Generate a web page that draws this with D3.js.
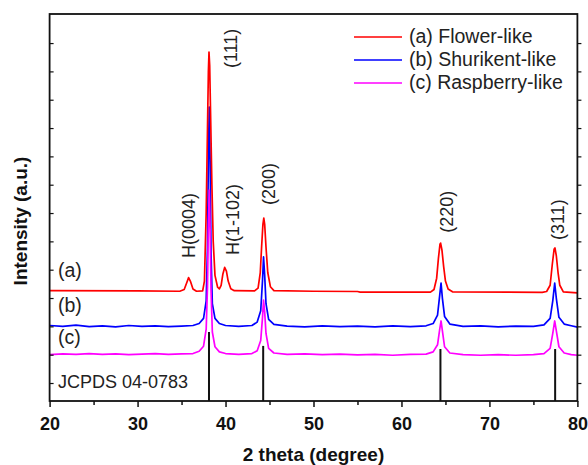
<!DOCTYPE html>
<html>
<head>
<meta charset="utf-8">
<script src="https://cdn.jsdelivr.net/npm/d3@7"></script>
<style>
  body { margin: 0; background: #fff; }
  svg { display: block; font-family: Arial, "Liberation Sans", sans-serif; }
</style>
</head>
<body>
<div class="chart"></div>
<script>
// 2 theta (deg) / intensity (a.u.) points, offset traces
var flowerLike = [
  [20, 326], [30, 325], [34.8, 324], [35.3, 330], [35.6, 355], [35.8, 372], [36.0, 360], [36.3, 332], [36.7, 324],
  [37.4, 325], [37.6, 360], [37.8, 600], [37.95, 900], [38.05, 1100], [38.12, 1168], [38.2, 1120], [38.3, 950],
  [38.45, 700], [38.6, 500], [38.8, 380], [39.1, 338], [39.3, 332], [39.5, 345], [39.7, 385], [39.9, 408],
  [40.1, 395], [40.3, 360], [40.6, 333], [41.0, 326], [43.3, 325], [43.7, 335], [43.95, 390], [44.1, 480],
  [44.25, 560], [44.35, 582], [44.45, 560], [44.6, 480], [44.8, 390], [45.1, 340], [45.5, 326], [50, 324],
  [55, 323], [55.3, 321], [63.3, 321], [63.7, 330], [64.0, 370], [64.2, 440], [64.38, 490], [64.45, 494],
  [64.6, 470], [64.8, 410], [65.0, 360], [65.3, 332], [65.8, 322], [76.0, 320], [76.5, 323], [76.9, 345],
  [77.15, 420], [77.35, 472], [77.45, 477], [77.6, 450], [77.8, 390], [78.0, 345], [78.4, 322], [80, 318]
]
var shurikenLike = [
  [20, 203], [21.5, 200], [23, 204], [24.5, 199], [26, 202], [27.5, 198], [29, 203], [30.5, 200], [32, 202],
  [33.5, 199], [35, 201], [36.3, 203], [37.0, 210], [37.5, 228], [37.8, 290], [37.95, 480], [38.05, 800],
  [38.15, 974], [38.25, 780], [38.35, 460], [38.5, 280], [38.8, 228], [39.3, 210], [40, 203], [41.5, 200],
  [43, 203], [43.6, 215], [44.0, 255], [44.2, 360], [44.32, 445], [44.45, 380], [44.6, 280], [44.9, 225],
  [45.5, 207], [47, 201], [49, 198], [51, 202], [53, 199], [55, 201], [57, 198], [59, 202], [61, 199],
  [62.8, 202], [63.6, 210], [64.1, 240], [64.35, 310], [64.5, 353], [64.65, 300], [64.9, 235], [65.5, 208],
  [67, 200], [69, 202], [71, 198], [73, 201], [75, 200], [76.2, 205], [76.9, 228], [77.2, 290], [77.42, 353],
  [77.6, 300], [77.9, 232], [78.5, 208], [79.3, 202], [80, 197]
]
var raspberryLike = [
  [20, 100], [21.5, 103], [23, 101], [24.5, 104], [26, 101], [27.5, 103], [29, 100], [30.5, 102], [32, 104],
  [33.5, 101], [35, 103], [36.3, 104], [37.0, 112], [37.5, 130], [37.8, 190], [37.95, 340], [38.05, 560],
  [38.15, 681], [38.25, 540], [38.35, 330], [38.5, 180], [38.8, 128], [39.3, 110], [40, 104], [41.5, 101],
  [43, 104], [43.6, 114], [44.0, 150], [44.2, 230], [44.32, 293], [44.45, 250], [44.6, 175], [44.9, 122],
  [45.5, 106], [47, 101], [49, 103], [51, 100], [53, 102], [55, 99], [57, 101], [59, 98], [61, 101],
  [62.8, 102], [63.6, 110], [64.1, 135], [64.35, 190], [64.5, 219], [64.65, 185], [64.9, 128], [65.5, 106],
  [67, 100], [69, 98], [71, 100], [73, 98], [75, 100], [76.2, 104], [76.9, 122], [77.2, 175], [77.42, 219],
  [77.6, 185], [77.9, 128], [78.5, 106], [79.3, 100], [80, 98]
]
var seriesNames = ["(a) Flower-like", "(b) Shurikent-like", "(c) Raspberry-like"]
var seriesTags = ["(a)", "(b)", "(c)"]
var tagLevels = [374, 251, 138]

// JCPDS 04-0783 stick pattern
var refAngles = [38.12, 44.28, 64.43, 77.47]
var refHeights = [180, 131, 120, 120]

var peakLabels = ["H(0004)", "(111)", "H(1-102)", "(200)", "(220)", "(311)"]
var peakLabelX = [35.76, 40.54, 40.77, 44.87, 65.13, 77.77]
var peakLabelY = [441, 1112, 452, 628, 530, 505]

var xTicks = [20, 30, 40, 50, 60, 70, 80]
var xMinor = [25, 35, 45, 55, 65, 75]
var yTicks = d3.range(0, 1201, 100)

var width = 588, height = 465
var colors = ["#ff0000", "#0000ff", "#ff00ff"]

var x = d3.scaleLinear().domain([20, 80]).range([49.6, 577.4])
var y = d3.scaleLinear().domain([-63.5, 1302.6]).range([401, 14])

var svg = d3.select('.chart')
  .append('svg')
  .attr('width', width)
  .attr('height', height)

svg.append('clipPath').attr('id', 'plotclip')
  .append('rect')
  .attr('x', x(20)).attr('y', y(1302.6))
  .attr('width', x(80) - x(20)).attr('height', y(-63.5) - y(1302.6))

var line = d3.line()
  .x(d => x(d[0]))
  .y(d => y(d[1]))

var plot = svg.append('g').attr('clip-path', 'url(#plotclip)')

// reference sticks
plot.selectAll('.ref')
  .data(refAngles)
  .enter()
  .append('line')
  .attr('x1', d => x(d)).attr('x2', d => x(d))
  .attr('y1', y(-63.5))
  .attr('y2', (d, i) => y(refHeights[i]))
  .attr('stroke', '#111')
  .attr('stroke-width', 2)

var traces = [shurikenLike, raspberryLike, flowerLike]
var traceColors = [colors[1], colors[2], colors[0]]
plot.selectAll('.trace')
  .data(traces)
  .enter()
  .append('path')
  .attr('d', d => line(d))
  .attr('fill', 'none')
  .attr('stroke', (d, i) => traceColors[i])
  .attr('stroke-width', 1.7)
  .attr('stroke-linejoin', 'round')

// axes
var bottom = svg.append('g')
  .attr('transform', `translate(0,${y(-63.5)})`)
  .call(d3.axisBottom(x).tickValues(xTicks).tickSize(6).tickPadding(10).tickFormat(d3.format('d')))
bottom.select('.domain').remove()
bottom.selectAll('text')
  .attr('font-size', 18).attr('font-weight', 'bold').attr('fill', '#111')
  .attr('font-family', 'Arial, "Liberation Sans", sans-serif')
bottom.selectAll('line').attr('stroke', '#111').attr('stroke-width', 1.5)

svg.append('g')
  .attr('transform', `translate(0,${y(-63.5)})`)
  .call(d3.axisBottom(x).tickValues(xMinor).tickSize(4).tickFormat(''))
  .call(g => g.select('.domain').remove())
  .selectAll('line').attr('stroke', '#111').attr('stroke-width', 1.5)

svg.append('g')
  .attr('transform', `translate(${x(20)},0)`)
  .call(d3.axisRight(y).tickValues(yTicks).tickSize(4).tickFormat(''))
  .call(g => g.select('.domain').remove())
  .selectAll('line').attr('stroke', '#111').attr('stroke-width', 1.2)

svg.append('g')
  .attr('transform', `translate(${x(80)},0)`)
  .call(d3.axisRight(y).tickValues(yTicks).tickSize(4).tickFormat(''))
  .call(g => g.select('.domain').remove())
  .selectAll('line').attr('stroke', '#111').attr('stroke-width', 1.2)

// frame
svg.append('rect')
  .attr('x', x(20)).attr('y', y(1302.6))
  .attr('width', x(80) - x(20)).attr('height', y(-63.5) - y(1302.6))
  .attr('fill', 'none')
  .attr('stroke', '#111')
  .attr('stroke-width', 1.8)

// axis titles
svg.append('text')
  .attr('x', (x(20) + x(80)) / 2).attr('y', 461)
  .attr('text-anchor', 'middle')
  .attr('font-size', 19).attr('font-weight', 'bold').attr('fill', '#111')
  .text('2 theta (degree)')

svg.append('text')
  .attr('transform', 'translate(20,221) rotate(-90)')
  .attr('text-anchor', 'middle')
  .attr('dy', '0.35em')
  .attr('font-size', 19).attr('font-weight', 'bold').attr('fill', '#111')
  .text('Intensity (a.u.)')

// peak labels
svg.selectAll('.plabel')
  .data(peakLabels)
  .enter()
  .append('text')
  .attr('transform', (d, i) => `translate(${x(peakLabelX[i])},${y(peakLabelY[i])}) rotate(-90)`)
  .attr('dy', '0.36em')
  .attr('font-size', 18).attr('fill', '#222')
  .text(d => d)

// trace tags
svg.selectAll('.tag')
  .data(seriesTags)
  .enter()
  .append('text')
  .attr('x', x(20.96))
  .attr('y', (d, i) => y(tagLevels[i]))
  .attr('font-size', 19.5).attr('fill', '#222')
  .text(d => d)

svg.append('text')
  .attr('x', x(20.96)).attr('y', y(-17.6))
  .attr('font-size', 18).attr('fill', '#222')
  .text('JCPDS 04-0783')

// legend
var legend = svg.selectAll('.legend')
  .data(seriesNames)
  .enter()
  .append('g')
  .attr('transform', (d, i) => `translate(354,${37 + i * 23})`)
legend.append('line')
  .attr('x1', 0).attr('x2', 48)
  .attr('stroke', (d, i) => colors[i])
  .attr('stroke-width', 1.7)
legend.append('text')
  .attr('x', 55).attr('y', 6)
  .attr('font-size', 19.5).attr('fill', '#222')
  .text(d => d)
</script>
</body>
</html>
